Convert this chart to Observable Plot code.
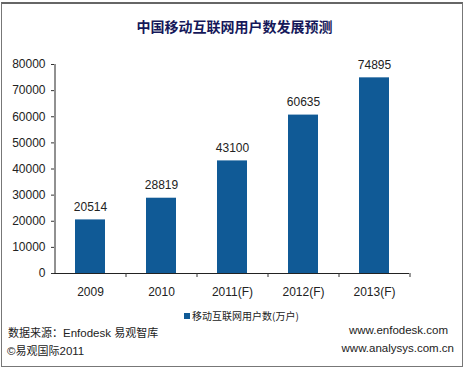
<!DOCTYPE html>
<html><head><meta charset="utf-8">
<script src="https://cdn.jsdelivr.net/npm/d3@7"></script>
<script src="https://cdn.jsdelivr.net/npm/@observablehq/plot@0.6"></script>
<style>
body{margin:0;background:#fff;}
#wrap{position:relative;width:469px;height:370px;overflow:hidden;background:#fff;font-family:"Liberation Sans",Arial,sans-serif;}
#frame{position:absolute;left:1px;top:2px;width:462px;height:365px;border:1px solid #777;border-top:2px solid #666;box-sizing:border-box;}
.t{position:absolute;white-space:nowrap;font-size:11.5px;color:#222;}
#title{left:0;width:469px;text-align:center;top:16px;font-family:"Noto Sans CJK SC",sans-serif;font-weight:bold;font-size:14px;color:#15185a;}
#chart{position:absolute;left:0;top:0;}
.cjk{font-family:"Noto Sans CJK SC",sans-serif;font-size:11px;}
</style></head><body>
<div id="wrap">
<div id="chart"></div>
<div id="frame"></div>
<div id="title" class="t">中国移动互联网用户数发展预测</div>
<div class="t" style="left:184px;top:308px;"><span style="display:inline-block;width:6px;height:6px;background:#105a96;margin-right:2px;vertical-align:1px;"></span><span class="cjk" style="font-size:10px;">移动互联网用户数(万户)</span></div>
<div class="t" style="left:8px;top:324px;"><span class="cjk">数据来源：</span>Enfodesk <span class="cjk">易观智库</span></div>
<div class="t" style="right:21px;top:324px;">www.enfodesk.com</div>
<div class="t" style="left:7px;top:342px;">©<span class="cjk">易观国际</span>2011</div>
<div class="t" style="right:15px;top:342px;">www.analysys.com.cn</div>
</div>
<script>
const categories = ["2009","2010","2011(F)","2012(F)","2013(F)"];
const users = [20514, 28819, 43100, 60635, 74895];
const yTicks = [0,10000,20000,30000,40000,50000,60000,70000,80000];

const data = categories.map((c,i)=>({year:c, value:users[i]}));
const color = "#105a96";

const chart = Plot.plot({
  width: 469, height: 370,
  marginLeft: 54, marginRight: 60, marginTop: 64, marginBottom: 97,
  style: {fontFamily: "'Liberation Sans', Arial, sans-serif", fontSize: "12px", color: "#222", background: "transparent"},
  x: {domain: categories, paddingInner: 0.58, paddingOuter: 0.29, label: null},
  y: {domain: [0, 80000], label: null},
  marks: [
    Plot.barY(data, {x: "year", y: "value", fill: color}),
    Plot.text(data, {x: "year", y: "value", text: d => String(d.value), dy: -13, fontSize: 12, fill: "#222"}),
    Plot.axisY({ticks: yTicks, tickSize: 3, tickPadding: 6, tickFormat: d => String(d), fontSize: 12, stroke: "#333"}),
    Plot.ruleX([categories[0]], {x: d => d, dx: -35.5, y1: 0, y2: 80000, stroke: "#222"}),
    Plot.ruleY([0], {stroke: "#222"}),
    Plot.axisX({tickSize: 0, tickPadding: 14, fontSize: 12}),
    Plot.ruleX(categories, {x: d => d, dx: 35.5, y1: 0, y2: 0, insetBottom: -4, stroke: "#333"})
  ]
});
document.getElementById("chart").appendChild(chart);
</script>
</body></html>
